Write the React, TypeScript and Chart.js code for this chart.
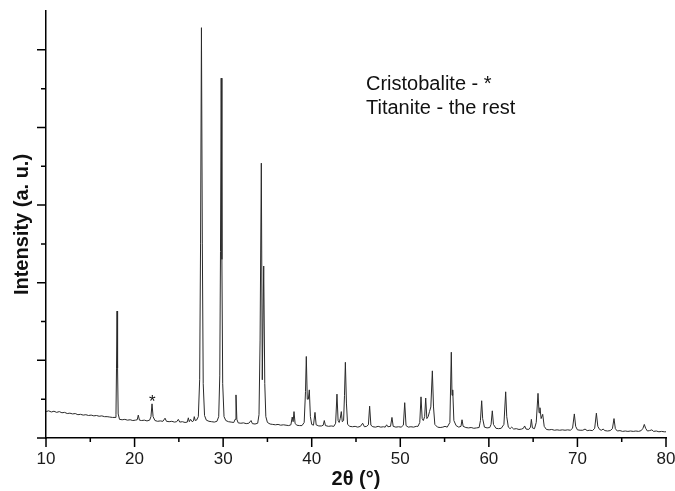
import React, { useEffect, useRef } from 'react';
import { Chart, registerables } from 'chart.js';

Chart.register(...registerables);

// 2θ positions (degrees)
const twoTheta = [
  10.0, 10.3, 10.6, 10.9, 11.2, 11.5, 11.8, 12.1, 12.4, 12.7,
  13.0, 13.3, 13.6, 13.9, 14.2, 14.5, 14.8, 15.1, 15.4, 15.7,
  16.0, 16.3, 16.6, 16.9, 17.2, 17.5, 17.8, 17.9, 17.96, 18.02,
  18.08, 18.15, 18.3, 18.6, 18.9, 19.2, 19.5, 19.8, 20.1, 20.3,
  20.42, 20.55, 20.8, 21.1, 21.4, 21.7, 21.85, 21.97, 22.09, 22.3,
  22.6, 22.9, 23.2, 23.44, 23.6, 23.9, 24.2, 24.5, 24.75, 24.94,
  25.1, 25.4, 25.7, 25.95, 26.07, 26.18, 26.33, 26.5, 26.65, 26.74,
  26.85, 27.0, 27.2, 27.35, 27.45, 27.55, 27.65, 27.75, 27.9, 28.1,
  28.4, 28.7, 29.0, 29.3, 29.5, 29.62, 29.7, 29.78, 29.86, 29.95,
  30.1, 30.3, 30.6, 30.9, 31.2, 31.35, 31.45, 31.55, 31.7, 32.0,
  32.3, 32.6, 32.9, 33.15, 33.3, 33.6, 33.9, 34.05, 34.17, 34.31,
  34.42, 34.58, 34.7, 34.82, 35.0, 35.3, 35.6, 35.9, 36.2, 36.5,
  36.8, 37.1, 37.4, 37.65, 37.8, 37.9, 38.0, 38.12, 38.3, 38.6,
  38.9, 39.15, 39.3, 39.39, 39.5, 39.62, 39.73, 39.85, 40.0, 40.2,
  40.37, 40.5, 40.8, 41.1, 41.3, 41.42, 41.55, 41.9, 42.2, 42.5,
  42.7, 42.85, 42.98, 43.1, 43.22, 43.34, 43.45, 43.6, 43.7, 43.8,
  43.92, 44.05, 44.3, 44.6, 44.9, 45.2, 45.5, 45.75, 45.95, 46.2,
  46.4, 46.54, 46.68, 46.9, 47.2, 47.5, 47.8, 48.1, 48.3, 48.46,
  48.6, 48.9, 49.06, 49.2, 49.5, 49.8, 50.1, 50.35, 50.5, 50.65,
  50.9, 51.2, 51.5, 51.8, 52.0, 52.2, 52.34, 52.47, 52.6, 52.75,
  52.87, 53.0, 53.15, 53.3, 53.45, 53.62, 53.75, 53.9, 54.2, 54.5,
  54.8, 55.05, 55.3, 55.6, 55.76, 55.84, 55.92, 56.05, 56.3, 56.6,
  56.85, 56.97, 57.1, 57.4, 57.7, 58.0, 58.3, 58.6, 58.9, 59.05,
  59.19, 59.3, 59.5, 59.8, 60.1, 60.25, 60.39, 60.52, 60.8, 61.1,
  61.4, 61.7, 61.9, 62.02, 62.2, 62.4, 62.58, 62.8, 63.1, 63.4,
  63.7, 63.9, 64.04, 64.2, 64.5, 64.7, 64.8, 64.92, 65.15, 65.35,
  65.55, 65.67, 65.77, 65.9, 66.08, 66.25, 66.5, 66.8, 67.1, 67.4,
  67.7, 68.0, 68.3, 68.6, 68.9, 69.2, 69.45, 69.65, 69.8, 70.0,
  70.3, 70.6, 70.86, 71.1, 71.4, 71.7, 71.95, 72.14, 72.3, 72.5,
  72.7, 72.9, 73.1, 73.4, 73.7, 73.95, 74.13, 74.28, 74.5, 74.8,
  75.1, 75.4, 75.7, 76.0, 76.3, 76.6, 76.9, 77.2, 77.4, 77.55,
  77.7, 77.9, 78.15, 78.4, 78.6, 78.9, 79.2, 79.5, 79.8, 80.0,
];

// Intensity (arbitrary units) at each 2θ position
const intensity = [
  0.68, 0.70, 0.67, 0.69, 0.66, 0.68, 0.65, 0.66, 0.63, 0.64,
  0.62, 0.63, 0.60, 0.61, 0.59, 0.60, 0.58, 0.59, 0.57, 0.58,
  0.56, 0.57, 0.55, 0.55, 0.54, 0.53, 0.53, 0.60, 1.8, 3.27,
  1.8, 0.62, 0.48, 0.47, 0.48, 0.46, 0.47, 0.45, 0.46, 0.47,
  0.59, 0.46, 0.45, 0.46, 0.44, 0.46, 0.55, 0.88, 0.55, 0.45,
  0.43, 0.44, 0.43, 0.51, 0.43, 0.42, 0.43, 0.41, 0.42, 0.48,
  0.41, 0.42, 0.40, 0.41, 0.52, 0.42, 0.48, 0.42, 0.44, 0.55,
  0.45, 0.46, 0.55, 1.5, 5.0, 10.57, 5.0, 1.4, 0.58, 0.46,
  0.43, 0.42, 0.41, 0.43, 0.55, 1.6, 4.8, 9.27, 4.6, 1.4,
  0.55, 0.45, 0.42, 0.41, 0.40, 0.48, 1.11, 0.48, 0.39, 0.38,
  0.39, 0.37, 0.38, 0.45, 0.37, 0.36, 0.38, 0.6, 2.5, 7.08,
  1.5, 4.43, 1.4, 0.55, 0.40, 0.36, 0.35, 0.34, 0.35, 0.33,
  0.34, 0.33, 0.32, 0.34, 0.54, 0.42, 0.68, 0.38, 0.33, 0.32,
  0.32, 0.40, 1.2, 2.10, 1.0, 1.0, 1.24, 0.55, 0.35, 0.33,
  0.66, 0.34, 0.31, 0.31, 0.33, 0.45, 0.32, 0.30, 0.31, 0.30,
  0.38, 1.13, 0.45, 0.40, 0.50, 0.68, 0.42, 0.45, 1.1, 1.95,
  0.9, 0.35, 0.30, 0.29, 0.30, 0.28, 0.30, 0.38, 0.29, 0.30,
  0.34, 0.82, 0.33, 0.29, 0.28, 0.30, 0.28, 0.29, 0.28, 0.34,
  0.29, 0.30, 0.53, 0.30, 0.28, 0.29, 0.28, 0.33, 0.91, 0.32,
  0.28, 0.29, 0.28, 0.30, 0.30, 0.40, 1.06, 0.50, 0.45, 0.55,
  1.03, 0.50, 0.55, 0.68, 0.80, 1.73, 0.80, 0.35, 0.28, 0.27,
  0.28, 0.30, 0.28, 0.40, 2.21, 1.1, 1.24, 0.45, 0.32, 0.28,
  0.30, 0.47, 0.30, 0.27, 0.26, 0.27, 0.25, 0.26, 0.27, 0.45,
  0.96, 0.50, 0.28, 0.26, 0.27, 0.35, 0.70, 0.35, 0.25, 0.24,
  0.25, 0.35, 1.19, 0.55, 0.28, 0.24, 0.28, 0.23, 0.24, 0.22,
  0.23, 0.25, 0.31, 0.23, 0.22, 0.28, 0.48, 0.26, 0.24, 0.40,
  1.15, 0.65, 0.78, 0.50, 0.61, 0.30, 0.22, 0.21, 0.22, 0.20,
  0.21, 0.20, 0.21, 0.20, 0.21, 0.20, 0.25, 0.62, 0.30, 0.21,
  0.20, 0.20, 0.23, 0.19, 0.20, 0.19, 0.25, 0.64, 0.30, 0.22,
  0.20, 0.23, 0.19, 0.18, 0.19, 0.24, 0.50, 0.24, 0.18, 0.19,
  0.17, 0.18, 0.17, 0.18, 0.17, 0.18, 0.17, 0.19, 0.25, 0.35,
  0.25, 0.18, 0.19, 0.21, 0.17, 0.18, 0.16, 0.17, 0.16, 0.16,
];

const xMajorTicks = [10, 20, 30, 40, 50, 60, 70, 80];
const xMinorTicks = [15, 25, 35, 45, 55, 65, 75];
const yMajorTicks = [0, 2, 4, 6, 8, 10];
const yMinorTicks = [1, 3, 5, 7, 9];
const noteLines = ['Cristobalite - *', 'Titanite - the rest'];
const starPeak = 22.0;

const FONT = "'Liberation Sans', Arial, Helvetica, sans-serif";

const decorPlugin = {
  id: 'decor',
  afterDraw(chart: any) {
    const { ctx, chartArea } = chart;
    const x = chart.scales.x;
    const y = chart.scales.y;
    ctx.save();
    ctx.strokeStyle = '#000';
    ctx.lineWidth = 1.5;
    ctx.beginPath();
    xMajorTicks.forEach((v) => {
      const p = x.getPixelForValue(v);
      ctx.moveTo(p, chartArea.bottom);
      ctx.lineTo(p, chartArea.bottom + 9);
    });
    xMinorTicks.forEach((v) => {
      const p = x.getPixelForValue(v);
      ctx.moveTo(p, chartArea.bottom);
      ctx.lineTo(p, chartArea.bottom + 4);
    });
    yMajorTicks.forEach((v) => {
      const p = y.getPixelForValue(v);
      ctx.moveTo(chartArea.left, p);
      ctx.lineTo(chartArea.left - 9, p);
    });
    yMinorTicks.forEach((v) => {
      const p = y.getPixelForValue(v);
      ctx.moveTo(chartArea.left, p);
      ctx.lineTo(chartArea.left - 5, p);
    });
    ctx.stroke();

    // annotation text
    ctx.fillStyle = '#111';
    ctx.font = `20px ${FONT}`;
    ctx.textAlign = 'left';
    ctx.textBaseline = 'alphabetic';
    const tx = x.getPixelForValue(46.13);
    ctx.fillText(noteLines[0], tx, y.getPixelForValue(8.97));
    ctx.fillText(noteLines[1], tx, y.getPixelForValue(8.35));

    // cristobalite marker
    ctx.font = `17px ${FONT}`;
    ctx.textAlign = 'center';
    ctx.fillText('*', x.getPixelForValue(starPeak), y.getPixelForValue(0.8));
    ctx.restore();
  },
};

export default function App() {
  const canvasRef = useRef<HTMLCanvasElement | null>(null);

  useEffect(() => {
    document.body.style.margin = '0';
    const canvas = canvasRef.current;
    if (!canvas) return;
    const points = twoTheta.map((t, i) => ({ x: t, y: intensity[i] }));
    const chart = new Chart(canvas, {
      type: 'line',
      data: {
        datasets: [
          {
            data: points,
            borderColor: '#2a2a2a',
            borderWidth: 1,
            pointRadius: 0,
            tension: 0,
            fill: false,
          },
        ],
      },
      options: {
        animation: false,
        responsive: false,
        maintainAspectRatio: false,
        layout: { padding: { top: 11, right: 9, left: 0, bottom: 0 } },
        plugins: {
          legend: { display: false },
          tooltip: { enabled: false },
        },
        scales: {
          x: {
            type: 'linear',
            min: 10,
            max: 80,
            grid: { display: false, drawTicks: false },
            border: { display: true, color: '#000', width: 1.5 },
            ticks: {
              stepSize: 10,
              padding: 11,
              color: '#1a1a1a',
              font: { family: FONT, size: 17 },
              maxRotation: 0,
              autoSkip: false,
            },
            title: {
              display: true,
              text: '2θ (°)',
              color: '#111',
              font: { family: FONT, size: 20, weight: 'bold' },
              padding: { top: 0, bottom: 0 },
            },
            afterFit: (scale: any) => {
              scale.height = 53;
              scale.paddingLeft = 0;
              scale.paddingRight = 0;
            },
          },
          y: {
            type: 'linear',
            min: 0,
            max: 11,
            grid: { display: false, drawTicks: false },
            border: { display: true, color: '#000', width: 1.5 },
            ticks: { display: false, stepSize: 1 },
            title: {
              display: true,
              text: 'Intensity (a. u.)',
              color: '#111',
              font: { family: FONT, size: 20, weight: 'bold' },
              padding: { top: 10, bottom: 0 },
            },
            afterFit: (scale: any) => {
              scale.width = 46;
              scale.paddingTop = 0;
              scale.paddingBottom = 0;
            },
          },
        },
      },
      plugins: [decorPlugin],
    });
    return () => chart.destroy();
  }, []);

  return (
    <div style={{ width: 675, height: 491 }}>
      <canvas ref={canvasRef} width={675} height={491} style={{ width: 675, height: 491, display: 'block' }} />
    </div>
  );
}
